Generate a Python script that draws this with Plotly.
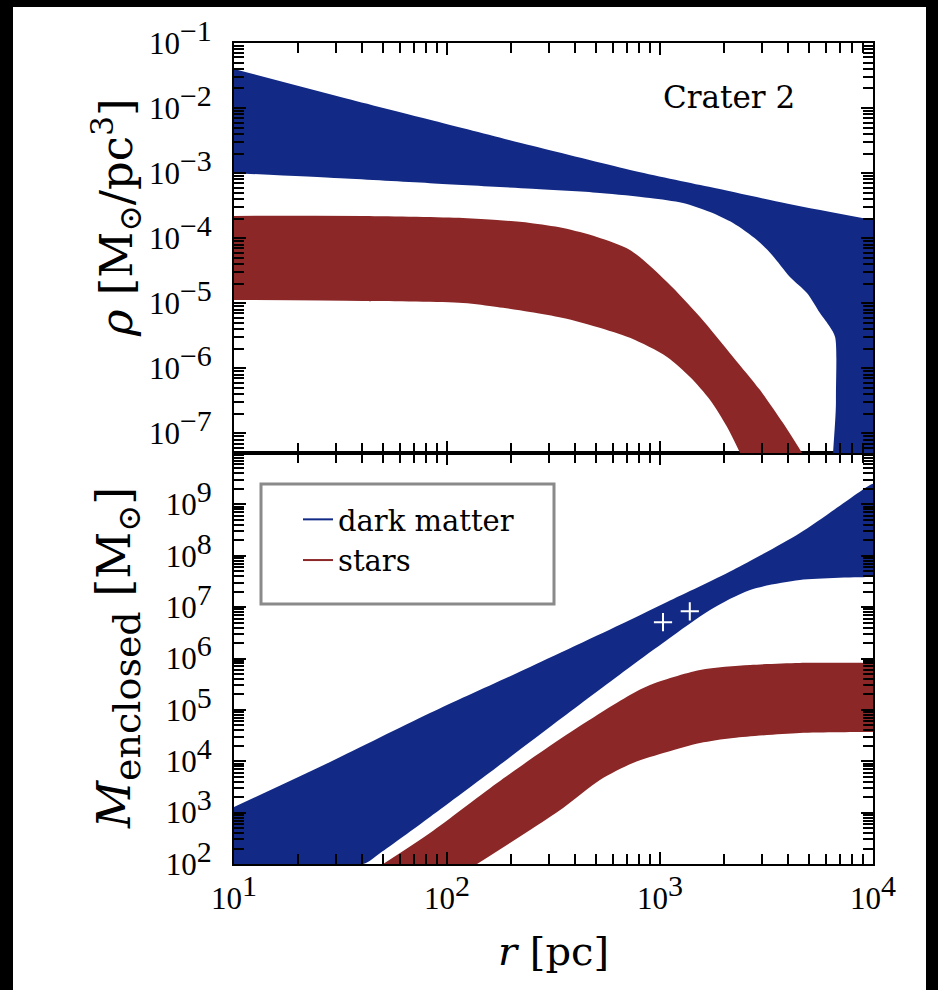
import numpy as np
import plotly.graph_objects as go

# ---------------- data (stored as log10 values) ----------------
# Top panel: density rho [Msun/pc^3]
rho_dm_up_logr = [1.0, 1.5, 1.92, 2.4, 2.86, 3.23, 3.6, 4.0]
rho_dm_up_log = [-1.40, -1.83, -2.18, -2.58, -2.95, -3.21, -3.47, -3.72]
rho_dm_lo_logr = [1.0, 1.5, 1.92, 2.40, 2.718, 2.953, 3.108, 3.235, 3.343, 3.455, 3.526,
                  3.610, 3.690, 3.751, 3.798, 3.822, 3.826, 3.826, 4.0]
rho_dm_lo_log = [-3.00, -3.08, -3.155, -3.24, -3.304, -3.381, -3.458, -3.596, -3.765, -4.026,
                 -4.257, -4.594, -4.840, -5.147, -5.362, -5.516, -6.5, -9.0, -9.0]

rho_st_up_logr = [1.0, 1.606, 2.075, 2.235, 2.390, 2.545, 2.704, 2.859, 3.033, 3.188,
                  3.343, 3.469, 3.577, 3.667]
rho_st_up_log = [-3.657, -3.657, -3.688, -3.719, -3.765, -3.842, -3.980, -4.180, -4.671,
                 -5.209, -5.823, -6.330, -6.837, -7.30]
rho_st_lo_logr = [1.0, 1.606, 2.075, 2.235, 2.390, 2.545, 2.704, 2.859, 3.033, 3.141,
                  3.235, 3.315, 3.376]
rho_st_lo_log = [-4.948, -4.963, -4.994, -5.055, -5.132, -5.224, -5.362, -5.531, -5.823,
                 -6.131, -6.484, -6.899, -7.30]

# Bottom panel: enclosed mass [Msun]
m_dm_up_logr = [1.0, 1.451, 1.920, 2.390, 2.859, 3.033, 3.343, 3.657, 3.986, 4.0]
m_dm_up_log = [3.109, 3.985, 4.939, 5.835, 6.749, 7.100, 7.723, 8.443, 9.377, 9.40]
m_dm_lo_logr = [1.0, 1.606, 1.685, 1.920, 2.235, 2.545, 2.859, 3.033, 3.235, 3.423, 3.657,
                3.986, 4.0]
m_dm_lo_log = [2.0, 2.0, 2.21, 2.915, 3.888, 4.861, 5.835, 6.360, 6.944, 7.333, 7.528,
               7.586, 7.586]

m_st_up_logr = [1.700, 1.920, 2.235, 2.545, 2.859, 2.953, 3.188, 3.423, 3.657, 3.986, 4.0]
m_st_up_log = [2.0, 2.603, 3.577, 4.472, 5.290, 5.484, 5.776, 5.873, 5.912, 5.912, 5.912]
m_st_lo_logr = [2.141, 2.390, 2.545, 2.718, 2.873, 3.033, 3.188, 3.343, 3.657, 3.986, 4.0]
m_st_lo_log = [2.0, 2.662, 3.090, 3.635, 3.966, 4.180, 4.355, 4.453, 4.550, 4.569, 4.569]

# mass estimates (white crosses)
est_r = [1033, 1380]
est_m = [5.1e6, 8.3e6]

# tick labels
x_tickvals = [10, 100, 1000, 10000]
x_exps = ["1", "2", "3", "4"]
rho_tickvals = [1e-7, 1e-6, 1e-5, 1e-4, 1e-3, 1e-2, 1e-1]
rho_exps = ["−7", "−6", "−5", "−4", "−3", "−2", "−1"]
m_tickvals = [1e2, 1e3, 1e4, 1e5, 1e6, 1e7, 1e8, 1e9]
m_exps = ["2", "3", "4", "5", "6", "7", "8", "9"]

series_names = ["dark matter", "stars"]
panel_label = "Crater 2"
x_title = "<i>r</i> [pc]"
rho_title = "<i>ρ</i> [M<sub>⊙</sub>/pc<sup>3</sup>]"
m_title = ("<i>M</i><sub><span style='font-size:38px'>enclosed</span></sub>"
           " [M<sub>⊙</sub>]")

# ---------------- style ----------------
BLUE = "#122a86"
RED = "#8b2727"
SERIF = "Liberation Serif"
TEXTSERIF = "DejaVu Serif"

W, H = 938, 990
L, R, T, B = 234, 65, 43, 126
PW, PH = W - L - R, H - T - B


def px(xp):
    return (xp - L) / PW


def py(yp):
    return (H - B - yp) / PH


def pw(a):
    return list(10.0 ** np.asarray(a, dtype=float))


def minor_vals(lo, hi):
    out = []
    for n in range(lo, hi):
        for k in range(2, 10):
            out.append(k * 10.0 ** n)
    return out


def tick_text(exps):
    return ["10<sup><span style='font-size:30px'>%s</span></sup>" % e for e in exps]


fig = go.Figure()


def add_band(xu, yu, xl, yl, color, xa, ya):
    # lower edge first, then upper edge filled down to it
    fig.add_trace(go.Scatter(x=pw(xl), y=pw(yl), mode="lines",
                             line=dict(width=0, color=color, shape="spline", smoothing=0.8),
                             xaxis=xa, yaxis=ya, showlegend=False, hoverinfo="skip"))
    fig.add_trace(go.Scatter(x=pw(xu), y=pw(yu), mode="lines", fill="tonexty",
                             fillcolor=color,
                             line=dict(width=0, color=color, shape="spline", smoothing=0.8),
                             xaxis=xa, yaxis=ya, showlegend=False, hoverinfo="skip"))


add_band(rho_dm_up_logr, rho_dm_up_log, rho_dm_lo_logr, rho_dm_lo_log, BLUE, "x2", "y2")
add_band(rho_st_up_logr, rho_st_up_log, rho_st_lo_logr, rho_st_lo_log, RED, "x2", "y2")
add_band(m_dm_up_logr, m_dm_up_log, m_dm_lo_logr, m_dm_lo_log, BLUE, "x", "y")
add_band(m_st_up_logr, m_st_up_log, m_st_lo_logr, m_st_lo_log, RED, "x", "y")

fig.add_trace(go.Scatter(x=est_r, y=est_m, mode="markers", xaxis="x", yaxis="y",
                         marker=dict(symbol="cross-thin", size=13,
                                     line=dict(width=2, color="white")),
                         showlegend=False, hoverinfo="skip"))

# legend entries
for name, col in zip(series_names, [BLUE, RED]):
    fig.add_trace(go.Scatter(x=[None], y=[None], mode="lines", name=name,
                             line=dict(color=col, width=2), xaxis="x", yaxis="y"))

tickfont = dict(family=SERIF, size=31, color="black")
minor_style = dict(ticks="inside", ticklen=10, tickwidth=1.5, tickcolor="black")
common = dict(type="log", showgrid=False, zeroline=False, showline=True,
              linecolor="black", linewidth=2, mirror="allticks",
              ticks="inside", ticklen=12, tickwidth=1.5, tickcolor="black",
              tickfont=tickfont, tickmode="array")

fig.update_layout(
    width=W, height=H,
    margin=dict(l=L, r=R, t=T, b=B, autoexpand=False),
    paper_bgcolor="black", plot_bgcolor="white",
    xaxis=dict(common, domain=[0, 1], anchor="y", range=[1, 4],
               tickvals=x_tickvals, ticktext=tick_text(x_exps), ticklabelstandoff=6,
               minor=dict(minor_style, tickvals=minor_vals(1, 4)),
               title=dict(text=x_title, standoff=22,
                          font=dict(family=TEXTSERIF, size=40, color="black"))),
    xaxis2=dict(common, domain=[0, 1], anchor="y2", range=[1, 4], matches="x",
                tickvals=x_tickvals, ticktext=tick_text(x_exps), showticklabels=False,
                minor=dict(minor_style, tickvals=minor_vals(1, 4))),
    yaxis=dict(common, domain=[0, py(453)], anchor="x", range=[2, 10],
               tickvals=m_tickvals, ticktext=tick_text(m_exps), ticklabelstandoff=14,
               minor=dict(minor_style, tickvals=minor_vals(2, 10))),
    yaxis2=dict(common, domain=[py(453), 1], anchor="x2", range=[-7.3, -1],
                tickvals=rho_tickvals, ticktext=tick_text(rho_exps), ticklabelstandoff=14,
                minor=dict(minor_style, tickvals=minor_vals(-8, -1))),
    legend=dict(x=px(298), y=py(494), xanchor="left", yanchor="top",
                traceorder="normal",
                bgcolor="rgba(0,0,0,0)", borderwidth=0,
                font=dict(family=TEXTSERIF, size=29, color="black")),
    shapes=[
        dict(type="rect", xref="paper", yref="paper", layer="below",
             x0=px(13), x1=px(926), y0=py(990), y1=py(7),
             fillcolor="white", line=dict(width=0)),
        dict(type="rect", xref="paper", yref="paper", layer="above",
             x0=px(261), x1=px(554), y0=py(604), y1=py(484),
             fillcolor="rgba(0,0,0,0)", line=dict(color="#8a8a8a", width=3)),
    ],
    annotations=[
        dict(text=panel_label, x=px(729), y=py(97), xref="paper", yref="paper",
             xanchor="center", yanchor="middle", showarrow=False,
             font=dict(family=TEXTSERIF, size=31, color="black")),
        dict(text=rho_title, x=px(116), y=py(218), xref="paper", yref="paper",
             xanchor="center", yanchor="middle", textangle=-90, showarrow=False,
             font=dict(family=TEXTSERIF, size=45, color="black")),
        dict(text=m_title, x=px(118), y=py(658), xref="paper", yref="paper",
             xanchor="center", yanchor="middle", textangle=-90, showarrow=False,
             font=dict(family=TEXTSERIF, size=46, color="black")),
    ],
)

fig.write_html("out.html")
